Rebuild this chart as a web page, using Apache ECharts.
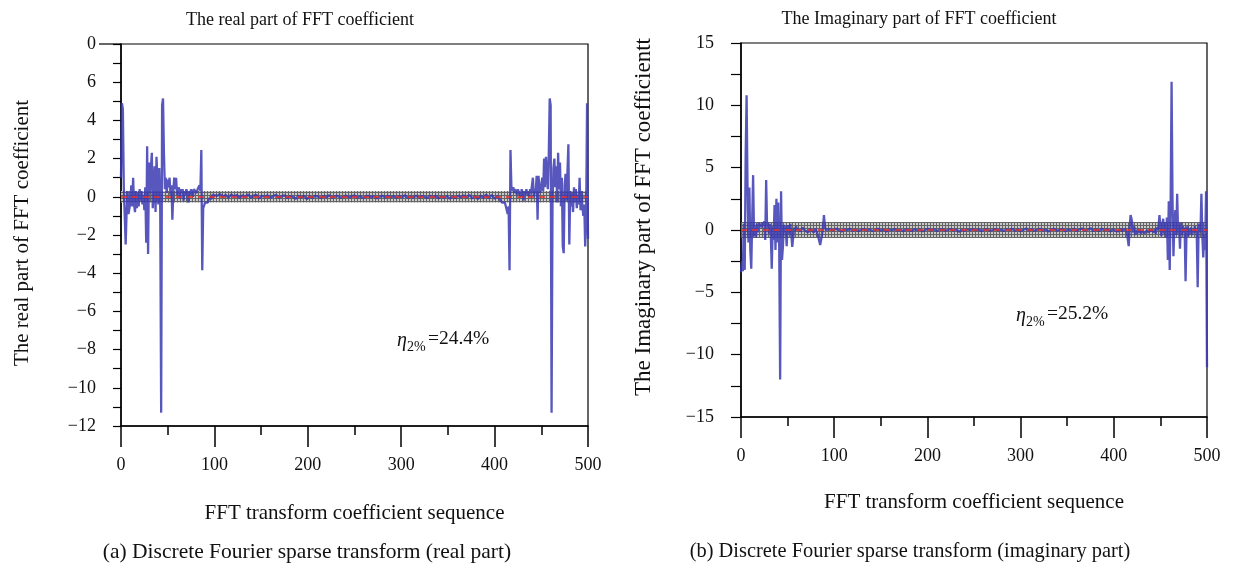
<!DOCTYPE html>
<html>
<head>
<meta charset="utf-8">
<script src="https://cdn.jsdelivr.net/npm/echarts@6/dist/echarts.min.js"></script>
<style>
  html, body { margin: 0; padding: 0; background: #fff; }
  #chart { width: 1233px; height: 567px; }
</style>
</head>
<body>
<div id="chart"></div>
<script>
// FFT coefficient sequences: [index, value]
const realPart = [
  [0,1.0],[1,4.9],[2,4.6],[3,0.5],[4,-1.0],[5,-2.5],[6,-0.8],[7,0.3],[8,-0.9],[9,-1.0],
  [10,-0.3],[11,0.6],[12,-0.5],[13,1.0],[14,-0.4],[15,-0.8],[16,0.3],[17,-0.6],[18,0.2],[19,-0.5],
  [20,0.4],[21,-0.2],[22,0.3],[23,-0.4],[24,0.1],[25,-0.7],[26,0.5],[27,-2.4],[28,2.65],[29,-3.0],
  [30,1.8],[31,0.2],[32,1.5],[33,2.3],[34,-0.6],[35,0.4],[36,1.6],[37,-0.8],[38,2.1],[39,2.2],
  [40,-0.4],[41,1.5],[42,-0.6],[43,-11.3],[44,4.8],[45,5.15],[46,2.2],[47,0.4],[48,1.0],[49,0.2],
  [50,0.9],[51,0.5],[52,1.0],[53,0.1],[54,0.6],[55,-1.2],[56,0.3],[57,1.0],[58,0.4],[59,1.0],
  [60,0.1],[61,0.3],[62,0.5],[63,-0.1],[64,0.4],[65,0.2],[66,0.4],[67,-0.2],[68,0.3],[69,0.1],
  [70,0.4],[71,0.2],[72,-0.3],[73,0.3],[74,0.1],[75,0.4],[76,0.2],[77,0.0],[78,0.4],[79,0.3],
  [80,0.5],[81,0.2],[82,0.4],[83,0.3],[84,0.6],[85,0.3],[86,2.45],[87,-3.85],[88,-0.6],[89,-0.5],
  [90,-0.3],[91,-0.4],[92,-0.2],[93,-0.3],[94,-0.1],[95,-0.2],[96,0.0],[97,-0.1],[98,0.1],[99,0.0],
  [100,0.1],[103,0.05],[106,0.15],[109,0.0],[112,0.1],[115,-0.05],[118,0.12],[121,0.02],[124,0.1],[127,-0.06],
  [130,0.08],[133,0.0],[136,0.12],[139,-0.05],[142,0.06],[145,0.1],[148,-0.08],[151,0.05],[154,0.0],[157,0.08],
  [160,-0.05],[163,0.04],[166,0.1],[169,-0.04],[172,0.02],[175,0.08],[178,-0.06],[181,0.03],[184,0.0],[187,-0.1],
  [190,0.05],[193,-0.04],[196,0.06],[199,-0.12],[202,0.02],[205,-0.05],[208,0.06],[211,0.0],[214,-0.06],[217,0.04],
  [220,-0.02],[223,0.08],[226,-0.04],[229,0.02],[232,0.05],[235,-0.05],[238,0.0],[241,0.06],[244,-0.03],[247,0.02],
  [250,0.07],[253,-0.04],[256,0.03],[259,-0.06],[262,0.02],[265,0.05],[268,-0.03],[271,0.04],[274,-0.08],[277,0.0],
  [280,0.05],[283,-0.04],[286,0.06],[289,-0.02],[292,0.03],[295,-0.05],[298,0.05],[301,-0.02],[304,0.08],[307,-0.06],
  [310,0.02],[313,-0.04],[316,0.06],[319,-0.03],[322,0.04],[325,0.0],[328,-0.06],[331,0.05],[334,-0.02],[337,0.06],
  [340,-0.08],[343,0.02],[346,-0.05],[349,0.04],[352,-0.1],[355,0.02],[358,-0.06],[361,0.05],[364,-0.04],[367,0.08],
  [370,-0.05],[373,0.1],[376,-0.08],[379,0.04],[382,-0.12],[385,0.06],[388,-0.05],[391,0.12],[394,-0.08],[397,0.1],
  [400,-0.1],[403,0.05],[405,-0.1],[406,-0.2],[407,-0.1],[408,-0.3],[409,-0.2],[410,-0.4],[411,-0.3],[412,-0.5],
  [413,-0.6],[414,-0.9],[415,-0.5],[416,-3.85],[417,2.45],[418,0.5],[419,0.3],[420,0.5],[421,0.2],[422,0.4],
  [423,0.3],[424,0.1],[425,0.4],[426,0.2],[427,0.3],[428,0.0],[429,0.4],[430,0.2],[431,-0.2],[432,0.3],
  [433,0.1],[434,0.4],[435,0.2],[436,0.3],[437,0.0],[438,0.4],[439,0.2],[440,0.6],[441,1.0],[442,0.0],
  [443,0.4],[444,0.2],[445,1.1],[446,-1.2],[447,1.1],[448,0.5],[449,0.2],[450,0.6],[451,1.0],[452,0.3],
  [453,2.0],[454,0.5],[455,2.1],[456,1.2],[457,0.4],[458,2.2],[459,5.15],[460,4.8],[461,-11.3],[462,-0.4],
  [463,1.5],[464,2.0],[465,0.5],[466,1.6],[467,-0.3],[468,2.3],[469,0.4],[470,1.8],[471,-0.5],[472,1.0],
  [473,-2.6],[474,-2.95],[475,0.6],[476,1.2],[477,-0.2],[478,1.3],[479,2.75],[480,-2.5],[481,0.3],[482,-0.5],
  [483,0.2],[484,-0.8],[485,0.5],[486,-0.3],[487,0.4],[488,-0.6],[489,0.1],[490,-0.4],[491,1.0],[492,-0.7],
  [493,0.3],[494,-0.5],[495,-1.0],[496,-0.4],[497,-2.6],[498,-1.0],[499,4.9],[500,-2.2]
];

const imagPart = [
  [0,-3.4],[1,-2.5],[2,-3.3],[3,0.5],[4,-3.2],[5,6.0],[6,10.8],[7,3.5],[8,-1.0],[9,3.4],
  [10,-1.6],[11,-3.1],[12,0.8],[13,4.4],[14,-0.5],[15,0.3],[16,-0.6],[17,0.5],[18,-0.2],[19,0.6],
  [20,0.3],[21,0.5],[22,0.2],[23,0.6],[24,0.4],[25,0.7],[26,-0.8],[27,4.0],[28,0.2],[29,0.6],
  [30,-0.3],[31,0.5],[32,-0.4],[33,-3.1],[34,0.3],[35,-0.8],[36,2.0],[37,-1.6],[38,2.5],[39,-1.0],
  [40,2.2],[41,-1.3],[42,-12.0],[43,3.1],[44,-2.4],[45,-1.3],[46,0.4],[47,-0.2],[48,0.3],[49,-1.3],
  [50,0.4],[51,-0.3],[52,0.2],[53,0.5],[54,-0.4],[55,-1.35],[56,-0.6],[57,0.2],[58,-0.1],[59,0.3],
  [60,0.1],[62,0.2],[64,-0.1],[66,0.2],[68,0.0],[70,0.1],[72,-0.2],[74,0.1],[76,0.0],[78,-0.2],
  [80,0.1],[82,-0.3],[84,-0.4],[85,-1.2],[86,-1.1],[87,-0.3],[88,0.2],[89,1.2],[90,0.3],[91,0.0],
  [93,-0.1],[96,0.08],[99,-0.05],[102,0.1],[105,0.0],[108,-0.12],[111,0.05],[114,-0.02],[117,0.1],[120,-0.06],
  [123,0.04],[126,-0.1],[129,0.02],[132,0.08],[135,-0.04],[138,0.05],[141,-0.08],[144,0.0],[147,0.1],[150,-0.05],
  [153,0.03],[156,-0.12],[159,0.04],[162,-0.02],[165,0.08],[168,-0.06],[171,0.02],[174,-0.1],[177,0.05],[180,0.0],
  [183,-0.08],[186,0.06],[189,-0.02],[192,0.05],[195,-0.1],[198,0.02],[201,0.1],[204,-0.04],[207,0.06],[210,-0.08],
  [213,0.02],[216,0.05],[219,-0.06],[222,0.0],[225,0.08],[228,-0.05],[231,0.04],[234,-0.15],[237,0.02],[240,-0.08],
  [243,0.05],[246,-0.02],[249,0.08],[252,-0.04],[255,0.06],[258,-0.1],[261,0.02],[264,0.05],[267,-0.06],[270,0.0],
  [273,0.08],[276,-0.04],[279,0.03],[282,-0.08],[285,0.06],[288,-0.02],[291,0.1],[294,-0.06],[297,0.04],[300,-0.1],
  [303,0.02],[306,0.12],[309,-0.04],[312,0.06],[315,-0.08],[318,0.02],[321,0.1],[324,-0.05],[327,0.04],[330,-0.12],
  [333,0.03],[336,0.1],[339,-0.06],[342,0.02],[345,0.08],[348,-0.1],[351,0.04],[354,-0.03],[357,0.1],[360,-0.08],
  [363,0.05],[366,0.12],[369,-0.06],[372,0.02],[375,0.15],[378,-0.08],[381,0.06],[384,-0.1],[387,0.12],[390,-0.04],
  [393,0.08],[396,-0.12],[399,0.05],[402,-0.08],[405,-0.1],[406,0.05],[407,-0.2],[408,0.1],[409,-0.1],[410,0.0],
  [411,-0.2],[412,0.1],[413,0.0],[414,-0.2],[415,-0.3],[416,-1.3],[417,0.2],[418,1.2],[419,0.9],[420,0.4],
  [421,-0.2],[422,0.3],[423,-0.4],[424,0.0],[425,-0.3],[426,0.1],[427,-0.2],[428,0.0],[429,-0.3],[430,-0.1],
  [431,-0.2],[432,0.05],[433,-0.25],[434,-0.1],[435,-0.3],[436,0.0],[437,-0.2],[438,-0.1],[439,-0.3],[440,0.0],
  [441,-0.15],[442,0.1],[443,-0.2],[444,0.05],[445,-0.3],[446,0.2],[447,0.0],[448,0.3],[449,1.2],[450,0.2],
  [451,-0.5],[452,0.4],[453,0.9],[454,-0.3],[455,0.6],[456,-0.6],[457,1.0],[458,-2.4],[459,2.3],[460,-3.2],
  [461,2.4],[462,11.9],[463,2.4],[464,-2.1],[465,0.5],[466,1.6],[467,-0.4],[468,2.9],[469,-0.3],[470,0.4],
  [471,-1.5],[472,0.6],[473,-0.4],[474,0.3],[475,-0.2],[476,0.2],[477,-4.1],[478,-0.2],[479,0.3],[480,-0.5],
  [481,0.1],[482,-0.3],[483,0.2],[484,-0.4],[485,0.0],[486,-0.2],[487,0.3],[488,-0.1],[489,-0.4],[490,-4.6],
  [491,0.3],[492,0.5],[493,-0.2],[494,2.9],[495,-0.5],[496,-2.2],[497,-0.4],[498,-1.6],[499,3.1],[500,-11.0]
];

// threshold band half-widths around zero
const realBand = 0.3;
const imagBand = 0.65;

// axis tick text
const realYTickText = ['\u221212', '\u221210', '\u22128', '\u22126', '\u22124', '\u22122', '0', '2', '4', '6', '0'];
const imagYTickText = ['\u221215', '\u221210', '\u22125', '0', '5', '10', '15'];
const xTickText = ['0', '100', '200', '300', '400', '500'];

const SERIF = '"Liberation Serif", "DejaVu Serif", serif';
const LINE_BLUE = 'rgba(58, 58, 178, 0.85)';

function gridTexture() {
  const c = document.createElement('canvas');
  c.width = 3; c.height = 3;
  const g = c.getContext('2d');
  g.fillStyle = '#c8c8c8';
  g.fillRect(0, 0, 3, 3);
  g.fillStyle = '#5c5c5c';
  g.fillRect(0, 0, 3, 1);
  g.fillRect(0, 0, 1, 3);
  return c;
}
const texture = gridTexture();

function xAxisFor(gridIndex, gap) {
  return {
    gridIndex, type: 'value', min: 0, max: 500, interval: 100,
    name: 'FFT transform coefficient sequence', nameLocation: 'middle', nameGap: gap,
    nameTextStyle: { fontFamily: SERIF, fontSize: 21, color: '#111' },
    axisLine: { onZero: false, lineStyle: { color: '#000', width: 1.5 } },
    axisTick: { length: 21, lineStyle: { color: '#000', width: 1.5 } },
    minorTick: { show: true, splitNumber: 2, length: 9, lineStyle: { color: '#000', width: 1.5 } },
    axisLabel: { margin: 30, fontFamily: SERIF, fontSize: 18, color: '#111',
      formatter: v => xTickText[Math.round(v / 100)] },
    splitLine: { show: false }
  };
}

function yAxisFor(gridIndex, min, max, interval, labels, name, gap, nameSize, namePad, tickLen) {
  return {
    gridIndex, type: 'value', min, max, interval,
    name, nameLocation: 'middle', nameGap: gap,
    nameTextStyle: { fontFamily: SERIF, fontSize: nameSize, color: '#111', padding: namePad },
    axisLine: { onZero: false, lineStyle: { color: '#000', width: 1.5 } },
    axisTick: { length: tickLen, lineStyle: { color: '#000', width: 1.2 } },
    minorTick: { show: true, splitNumber: 2, length: tickLen, lineStyle: { color: '#000', width: 1.2 } },
    axisLabel: { margin: tickLen + 17, fontFamily: SERIF, fontSize: 18, color: '#111',
      formatter: v => labels[Math.round((v - min) / interval)] },
    splitLine: { show: false }
  };
}

function bandSeries(idx, half) {
  return {
    type: 'line', xAxisIndex: idx, yAxisIndex: idx, data: [], silent: true, z: 1,
    markArea: {
      silent: true,
      itemStyle: { color: { image: texture, repeat: 'repeat' }, opacity: 0.95 },
      data: [[{ xAxis: 0, yAxis: -half }, { xAxis: 500, yAxis: half }]]
    },
    markLine: {
      silent: true, symbol: 'none', label: { show: false },
      lineStyle: { color: '#e8302c', type: [6, 5], width: 1.6 },
      data: [{ yAxis: 0 }]
    }
  };
}

function coefSeries(idx, data) {
  return {
    type: 'line', xAxisIndex: idx, yAxisIndex: idx, data, z: 3,
    showSymbol: false, symbol: 'none', smooth: false,
    lineStyle: { color: LINE_BLUE, width: 2.3 }
  };
}

const chart = echarts.init(document.getElementById('chart'), null, { renderer: 'canvas' });

const textStyle = (size, extra) => Object.assign({
  fontFamily: SERIF, fontSize: size, fill: '#111', textVerticalAlign: 'middle'
}, extra || {});

chart.setOption({
  backgroundColor: '#fff',
  animation: false,
  textStyle: { fontFamily: SERIF },
  grid: [
    { left: 121, top: 44, width: 467, height: 382, show: true, borderColor: '#000', borderWidth: 1.2, backgroundColor: 'transparent' },
    { left: 741, top: 43, width: 466, height: 374, show: true, borderColor: '#000', borderWidth: 1.2, backgroundColor: 'transparent' }
  ],
  xAxis: [xAxisFor(0, 77), xAxisFor(1, 75)],
  yAxis: [
    yAxisFor(0, -12, 8, 2, realYTickText, 'The real part of FFT coefficient', 88, 21, [0, 0, 0, 4], 8),
    yAxisFor(1, -15, 15, 5, imagYTickText, 'The Imaginary part of FFT coefficientt', 86, 23, [0, 0, 0, 26], 10)
  ],
  series: [
    bandSeries(0, realBand), coefSeries(0, realPart),
    bandSeries(1, imagBand), coefSeries(1, imagPart)
  ],
  graphic: [
    // top frame line running past the left axis
    { type: 'line', shape: { x1: 99, y1: 44, x2: 121, y2: 44 }, style: { stroke: '#000', lineWidth: 1.2 } },
    { type: 'text', x: 300, y: 20, style: textStyle(18, { text: 'The real part of FFT coefficient', textAlign: 'center' }) },
    { type: 'text', x: 919, y: 19, style: textStyle(18, { text: 'The Imaginary part of FFT coefficient', textAlign: 'center' }) },
    { type: 'text', x: 307, y: 552, style: textStyle(21.5, { text: '(a) Discrete Fourier sparse transform (real part)', textAlign: 'center' }) },
    { type: 'text', x: 910, y: 552, style: textStyle(20.4, { text: '(b) Discrete Fourier sparse transform (imaginary part)', textAlign: 'center' }) },
    // efficiency annotations
    { type: 'text', x: 397, y: 341, style: textStyle(20, { text: '\u03b7', fontStyle: 'italic' }) },
    { type: 'text', x: 407, y: 347, style: textStyle(14, { text: '2%' }) },
    { type: 'text', x: 428, y: 339, style: textStyle(19.5, { text: '=24.4%' }) },
    { type: 'text', x: 1016, y: 316, style: textStyle(20, { text: '\u03b7', fontStyle: 'italic' }) },
    { type: 'text', x: 1026, y: 322, style: textStyle(14, { text: '2%' }) },
    { type: 'text', x: 1047, y: 314, style: textStyle(19.5, { text: '=25.2%' }) }
  ]
});
</script>
</body>
</html>
